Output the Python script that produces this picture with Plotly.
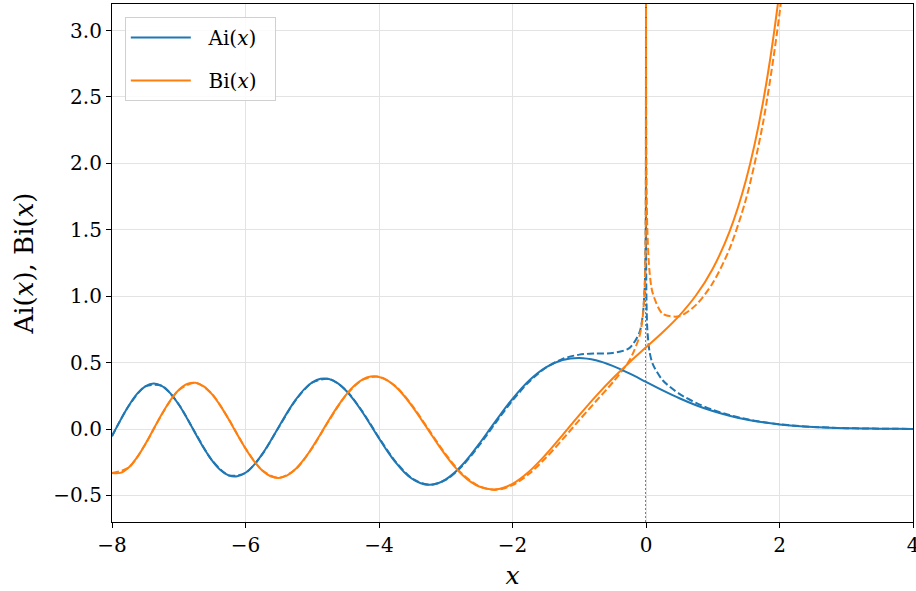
import plotly.graph_objects as go

# ---- data ----
x_ai = [-8, -7.875, -7.75, -7.625, -7.5, -7.375, -7.25, -7.125, -7, -6.875, -6.75, -6.625,
        -6.5, -6.375, -6.25, -6.125, -6, -5.875, -5.75, -5.625, -5.5, -5.375, -5.25,
        -5.125, -5, -4.875, -4.75, -4.625, -4.5, -4.375, -4.25, -4.125, -4, -3.875, -3.75,
        -3.625, -3.5, -3.375, -3.25, -3.125, -3, -2.875, -2.75, -2.625, -2.5, -2.25, -2,
        -1.75, -1.5, -1.25, -1, -0.75, -0.5, -0.25, 0, 0.25, 0.5, 0.75, 1, 1.25, 1.5, 1.75,
        2, 2.25, 2.5, 2.75, 3, 3.25, 3.5, 3.75, 4]
ai_solid = [-0.0527, 0.0652, 0.1748, 0.2640, 0.3218, 0.3420, 0.3238, 0.2688, 0.1843, 0.0797,
            -0.0333, -0.1431, -0.2382, -0.3093, -0.3496, -0.3564, -0.3292, -0.2715, -0.1889,
            -0.0895, 0.0176, 0.1236, 0.2190, 0.2969, 0.3508, 0.3779, 0.3763, 0.3468, 0.2923,
            0.2176, 0.1282, 0.0297, -0.0703, -0.1662, -0.2519, -0.3233, -0.3763, -0.4088,
            -0.4200, -0.4098, -0.3788, -0.3320, -0.2691, -0.1947, -0.1124, 0.0616, 0.2274,
            0.3655, 0.4642, 0.5200, 0.5356, 0.5178, 0.4757, 0.4187, 0.3550, 0.2912, 0.2317,
            0.1793, 0.1353, 0.0997, 0.0718, 0.0506, 0.0349, 0.0235, 0.0157, 0.0103, 0.0066,
            0.0042, 0.0026, 0.0016, 0.0010]

x_bi = x_ai[:64]
bi_solid = [-0.3315, -0.3304, -0.2894, -0.2135, -0.1126, 0.0016, 0.1156, 0.2168, 0.2938,
            0.3392, 0.3484, 0.3212, 0.2611, 0.1744, 0.0710, -0.0399, -0.1467, -0.2401,
            -0.3116, -0.3553, -0.3680, -0.3493, -0.3016, -0.2291, -0.1384, -0.0369, 0.0674,
            0.1666, 0.2542, 0.3239, 0.3715, 0.3948, 0.3922, 0.3662, 0.3177, 0.2505, 0.1690,
            0.0787, -0.0162, -0.1102, -0.1981, -0.2786, -0.3458, -0.3984, -0.4325, -0.4539,
            -0.4123, -0.3195, -0.1918, -0.0458, 0.1040, 0.2478, 0.3804, 0.5014, 0.6149,
            0.7288, 0.8543, 1.0069, 1.2074, 1.4844, 1.8789, 2.4523, 3.2981, 4.5632]

# asymptotic approximations, x < 0
x_neg = [-8, -7.75, -7.5, -7.25, -7, -6.75, -6.5, -6.25, -6, -5.75, -5.5, -5.25, -5,
         -4.75, -4.5, -4.25, -4, -3.75, -3.5, -3.25, -3, -2.75, -2.5, -2.25, -2, -1.75,
         -1.5, -1.25, -1, -0.75, -0.5, -0.25, -0.1, -0.05, -0.02, -0.01, -0.005, -0.002,
         -0.001, -0.0005, -0.0002, -0.0001]
ai_asym_neg = [-0.0543, 0.1734, 0.3212, 0.3244, 0.1860, -0.0313, -0.2365, -0.3491, -0.3301,
               -0.1912, 0.0146, 0.2164, 0.3496, 0.3769, 0.2951, 0.1326, -0.0654, -0.2473,
               -0.3735, -0.4201, -0.3836, -0.2769, -0.1238, 0.0488, 0.2151, 0.3562, 0.4614,
               0.5279, 0.5602, 0.5691, 0.5722, 0.6091, 0.7242, 0.8500, 1.0628, 1.2625,
               1.5007, 1.8866, 2.2435, 2.6680, 3.3548, 3.9894]
bi_asym_neg = [-0.3311, -0.2903, -0.1142, 0.1139, 0.2928, 0.3486, 0.2626, 0.0733, -0.1449,
               -0.3102, -0.3681, -0.3035, -0.1420, 0.0636, 0.2510, 0.3700, 0.3936, 0.3212,
               0.1749, -0.0087, -0.1913, -0.3395, -0.4313, -0.4581, -0.4228, -0.3372, -0.2168,
               -0.0779, 0.0667, 0.2090, 0.3504, 0.5154, 0.6944, 0.8373, 1.0589, 1.2607,
               1.5000, 1.8866, 2.2435, 2.6680, 3.3548, 3.9894]

# asymptotic approximations, x > 0
x_pos = [0.00005, 0.0001, 0.0002, 0.0005, 0.001, 0.002, 0.005, 0.01, 0.02, 0.05, 0.1, 0.25,
         0.5, 0.75, 1, 1.25, 1.5, 1.75, 2, 2.25, 2.5, 2.75, 3, 3.25, 3.5, 3.75, 4]
ai_asym_pos = [3.355, 2.821, 2.372, 1.8865, 1.5863, 1.3339, 1.0606, 0.8915, 0.7487, 0.5922,
               0.4912, 0.3671, 0.2650, 0.1966, 0.1448, 0.1051, 0.0749, 0.0524, 0.0360,
               0.0243, 0.0161, 0.0105, 0.0067, 0.0042, 0.0026, 0.0016, 0.00096]
x_bi_pos = x_pos[:20]
bi_asym_pos = [6.709, 5.642, 4.744, 3.773, 3.1727, 2.668, 2.1222, 1.7854, 1.5031, 1.2020,
               1.0247, 0.8672, 0.8492, 0.9348, 1.0989, 1.3547, 1.7349, 2.2958, 3.1265, 4.371]

x_ticks = [-8, -6, -4, -2, 0, 2, 4]
y_ticks = [-0.5, 0.0, 0.5, 1.0, 1.5, 2.0, 2.5, 3.0]

BLUE = "#1f77b4"
ORANGE = "#ff7f0e"
FONT = "DejaVu Serif"
DASH = "7px,3px"
NB = "\u00a0"

fig = go.Figure()
fig.add_vline(x=0, line=dict(color="#808080", width=2, dash="2px,2px"), layer="below")

dash_line = dict(width=2, dash=DASH, shape="spline", smoothing=0.8)
fig.add_trace(go.Scatter(x=x_neg, y=ai_asym_neg, mode="lines", showlegend=False,
                         line=dict(color=BLUE, **dash_line)))
fig.add_trace(go.Scatter(x=x_pos, y=ai_asym_pos, mode="lines", showlegend=False,
                         line=dict(color=BLUE, **dash_line)))
fig.add_trace(go.Scatter(x=x_neg, y=bi_asym_neg, mode="lines", showlegend=False,
                         line=dict(color=ORANGE, **dash_line)))
fig.add_trace(go.Scatter(x=x_bi_pos, y=bi_asym_pos, mode="lines", showlegend=False,
                         line=dict(color=ORANGE, **dash_line)))

fig.add_trace(go.Scatter(x=x_ai, y=ai_solid, mode="lines",
                         name=NB * 2 + "Ai(<i>x</i>)" + NB * 2, legendgroup="a",
                         line=dict(color=BLUE, width=2, shape="spline", smoothing=1)))
fig.add_trace(go.Scatter(x=x_bi, y=bi_solid, mode="lines",
                         name=NB * 2 + "Bi(<i>x</i>)" + NB * 2, legendgroup="b",
                         line=dict(color=ORANGE, width=2, shape="spline", smoothing=1)))

axis_common = dict(showline=True, linecolor="black", linewidth=1.2, mirror=True,
                   ticks="outside", ticklen=5, tickwidth=1.2, tickcolor="black",
                   showgrid=True, gridcolor="#e3e3e3", gridwidth=1, zeroline=False,
                   ticklabeloverflow="allow", automargin=False,
                   tickfont=dict(family=FONT, size=20, color="black"))

fig.update_xaxes(range=[-8, 4], tickvals=x_ticks,
                 ticktext=[("\u2212" + str(-v)) if v < 0 else str(v) for v in x_ticks],
                 title=dict(text="<i>x</i>", font=dict(family=FONT, size=25, color="black"),
                            standoff=10),
                 **axis_common)
fig.update_yaxes(range=[-0.7, 3.2], tickvals=y_ticks,
                 ticktext=[("\u2212" + f"{-v:.1f}") if v < 0 else f"{v:.1f}" for v in y_ticks],
                 title=dict(text="Ai(<i>x</i>), Bi(<i>x</i>)",
                            font=dict(family=FONT, size=26, color="black"), standoff=12),
                 **axis_common)

fig.update_layout(
    width=916, height=591,
    margin=dict(l=112, r=3, t=4, b=69),
    paper_bgcolor="white", plot_bgcolor="white",
    showlegend=True,
    legend=dict(x=0.016, y=0.975, xanchor="left", yanchor="top",
                bgcolor="rgba(255,255,255,0.85)", bordercolor="#d0d0d0", borderwidth=1,
                font=dict(family=FONT, size=20, color="black"),
                itemwidth=60, tracegroupgap=14),
)

fig.write_html("out.html")
